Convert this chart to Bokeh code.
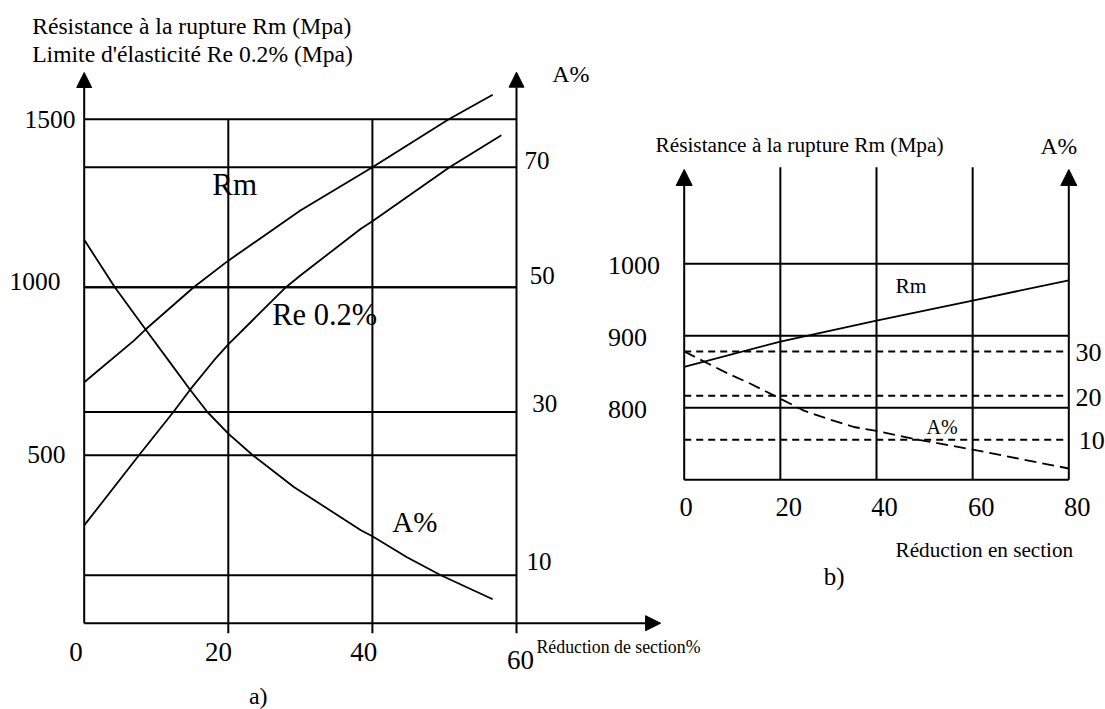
from bokeh.plotting import figure
from bokeh.models import Range1d, Arrow, NormalHead, ColumnDataSource
from bokeh.core.properties import value
from bokeh.embed import file_html
from bokeh.resources import INLINE

# ================= DATA =================
# --- panel a) : reduction of section (%) ---
a_x_ticks = [0, 20, 40, 60]
a_x_tick_labels = ["0", "20", "40", "60"]
a_mpa_ticks = [1500, 1000, 500]
a_mpa_tick_labels = ["1500", "1000", "500"]
# right axis A% (the original drawing is not to scale: "10" sits much lower)
a_el_tick_labels = ["70", "50", "30", "10"]
a_el_tick_pos = [70, 50, 29.2, 2.0]

# Rm (MPa)
a_rm_x = [0, 6.9, 8.5, 15.2, 20, 30, 40, 50.6, 56.7]
a_rm = [717, 841, 874, 1000, 1079, 1228, 1357, 1500, 1573]
# Re 0.2% (MPa)
a_re_x = [0, 7.6, 12.35, 14.7, 18, 20, 28, 30, 38.4, 40, 50.7, 57.9]
a_re = [291, 500, 628, 695, 782, 830, 1000, 1035, 1174, 1196, 1357, 1452]
# A% (on the drawn right-hand scale)
a_el_x = [0, 4.25, 8.5, 11.7, 14.7, 17.1, 20, 23.4, 29.1, 38.4, 40, 44.8, 49.5, 56.7]
a_el = [57.9, 50, 43.0, 37.8, 32.9, 29.2, 25.6, 22.0, 16.7, 9.5, 8.5, 5.0, 2.0, -2.0]

# --- panel b) ---
b_x_ticks = [0, 20, 40, 60, 80]
b_x_tick_labels = ["0", "20", "40", "60", "80"]
b_mpa_ticks = [1000, 900, 800]
b_mpa_tick_labels = ["1000", "900", "800"]
b_mpa_floor = 700
b_el_ticks = [30, 20, 10]
b_el_tick_labels = ["30", "20", "10"]
b_rm_x = [0, 20, 40, 60, 80]
b_rm = [857, 892, 921, 949, 977]
b_el_x = [0, 9.3, 13.8, 20, 24.9, 29.7, 35.3, 40, 48.8, 60, 80]
b_el = [30, 24.9, 22.7, 19.3, 16.6, 14.8, 12.9, 12.0, 10.0, 7.8, 3.5]

# ================= LAYOUT =================
W, H = 1105, 709
FONT = value("Liberation Serif")
LW = 2
BASELINE_FIX = 0.34   # renderer draws alphabetic text ~0.34 em lower than asked


def xrange_from(px0, v0, ppu):
    return Range1d(v0 - px0 / ppu, v0 + (W - px0) / ppu)


def yrange_from(py0, v0, ppu):
    return Range1d(v0 - (H - py0) / ppu, v0 + py0 / ppu)


p = figure(width=W, height=H, x_range=Range1d(0, W), y_range=Range1d(H, 0),
           min_border=0, x_axis_location=None, y_axis_location=None,
           toolbar_location=None, output_backend="svg", title=None,
           outline_line_color=None, background_fill_color="white",
           border_fill_color="white")
p.xgrid.visible = False
p.ygrid.visible = False

p.extra_x_ranges = {
    "xa": xrange_from(83.7, 0, 7.205),
    "xb": xrange_from(683.7, 0, 4.8075),
}
p.extra_y_ranges = {
    "ya": yrange_from(622.7, 0, 0.336),
    "aa": yrange_from(286.7, 50, 6.0),
    "yb": yrange_from(263.3, 1000, 0.72),
    "ab": yrange_from(351.0, 30, 4.415),
}


def seg(x0, y0, x1, y1, xr, yr, dash="solid", lw=LW):
    p.segment(x0=x0, y0=y0, x1=x1, y1=y1, line_color="black", line_width=lw,
              line_dash=dash, x_range_name=xr, y_range_name=yr)


def arrow(x0, y0, x1, y1, xr, yr, size=15):
    p.add_layout(Arrow(end=NormalHead(size=size, fill_color="black", line_color="black", line_width=1),
                       x_start=x0, y_start=y0, x_end=x1, y_end=y1,
                       line_color="black", line_width=LW,
                       x_range_name=xr, y_range_name=yr))


def texts(xs, ys, labels, size, align="left", dx=None, dy=None, xr="default", yr="default"):
    n = len(labels)
    fs = float(size.replace("px", ""))
    dx = dx if dx is not None else [0] * n
    dy = dy if dy is not None else [0] * n
    dy = [d - BASELINE_FIX * fs for d in dy]
    src = ColumnDataSource(dict(x=xs, y=ys, t=labels, dx=dx, dy=dy))
    p.text(x="x", y="y", text="t", x_offset="dx", y_offset="dy", source=src,
           text_font=FONT, text_font_size=size, text_align=align,
           text_baseline="alphabetic", text_color="black",
           x_range_name=xr, y_range_name=yr)


# ---------------- panel a ----------------
n = len(a_mpa_ticks)
seg([0] * n, a_mpa_ticks, [60] * n, a_mpa_ticks, "xa", "ya")
m = len(a_el_tick_pos)
seg([0] * m, a_el_tick_pos, [60] * m, a_el_tick_pos, "xa", "aa")
vx = a_x_ticks[1:-1]
seg(vx, [-30] * len(vx), vx, [a_mpa_ticks[0]] * len(vx), "xa", "ya")
arrow(0, 0, 0, 1639, "xa", "ya")
arrow(60, -30, 60, 1640, "xa", "ya")
arrow(0, 0, 80, 0, "xa", "ya")

p.line(a_rm_x, a_rm, line_color="black", line_width=1.8, x_range_name="xa", y_range_name="ya")
p.line(a_re_x, a_re, line_color="black", line_width=1.8, x_range_name="xa", y_range_name="ya")
p.line(a_el_x, a_el, line_color="black", line_width=1.8, x_range_name="xa", y_range_name="aa")

# tick labels
texts([0] * 3, a_mpa_ticks, a_mpa_tick_labels, "25.5px", align="right",
      dx=[-8.7, -23.7, -18.7], dy=[8.7, 2.5, 7.7], xr="xa", yr="ya")
texts([60] * 4, a_el_tick_pos, a_el_tick_labels, "25px", align="left",
      dx=[8, 13.3, 15.7, 10], dy=[1.8, -3.2, 0.1, -4.8], xr="xa", yr="aa")
texts(a_x_ticks, [0] * 4, a_x_tick_labels, "27px", align="center",
      dx=[-8.3, -9.7, -8.7, 4], dy=[37.5, 37.5, 37.5, 45.5], xr="xa", yr="ya")

# titles & labels (pixel positions)
texts([31.7, 31.7], [33.3, 61.7],
      ["Résistance à la rupture Rm (Mpa)", "Limite d'élasticité Re 0.2% (Mpa)"], "23.6px")
texts([551.7], [81.7], ["A%"], "24px")
texts([536], [652.5], ["Réduction de section%"], "17.8px")
texts([211.7], [195], ["Rm"], "31px")
texts([271.7], [325], ["Re 0.2%"], "30.5px")
texts([391.7], [531.7], ["A%"], "29px")
texts([248.4], [703.5], ["a)"], "24px")

# ---------------- panel b ----------------
k = len(b_mpa_ticks)
seg([0] * (k + 1), b_mpa_ticks + [b_mpa_floor], [80] * (k + 1), b_mpa_ticks + [b_mpa_floor], "xb", "yb")
j = len(b_el_ticks)
seg([0] * j, b_el_ticks, [80] * j, b_el_ticks, "xb", "ab", dash="7 5")
bv = b_x_ticks[1:-1]
seg(bv, [b_mpa_floor] * len(bv), bv, [1134] * len(bv), "xb", "yb")
arrow(0, b_mpa_floor, 0, 1131, "xb", "yb", size=16)
arrow(80, b_mpa_floor, 80, 1131, "xb", "yb", size=16)

p.line(b_rm_x, b_rm, line_color="black", line_width=1.8, x_range_name="xb", y_range_name="yb")
p.line(b_el_x, b_el, line_color="black", line_width=1.8, line_dash="12 6",
       x_range_name="xb", y_range_name="ab")

texts([0] * 3, b_mpa_ticks, b_mpa_tick_labels, "26px", align="left",
      dx=[-76.2] * 3, dy=[10.1] * 3, xr="xb", yr="yb")
texts([80] * 3, b_el_ticks, b_el_tick_labels, "26px", align="left",
      dx=[6.7, 6.7, 10], dy=[9.5, 10.3, 9.5], xr="xb", yr="ab")
texts(b_x_ticks, [b_mpa_floor] * 5, b_x_tick_labels, "26.5px", align="center",
      dx=[2, 8.3, 8, 8.6, 8.4], dy=[36] * 5, xr="xb", yr="yb")

texts([655], [152], ["Résistance à la rupture Rm (Mpa)"], "21.3px")
texts([1040], [153.3], ["A%"], "23.6px")
texts([895], [293.3], ["Rm"], "21.5px")
texts([926], [433], ["A%"], "20px")
texts([895], [556.7], ["Réduction en section"], "21.2px")
texts([823.3], [584], ["b)"], "25px")

open("out.html", "w").write(file_html(p, INLINE, title="Rm Re A%"))
